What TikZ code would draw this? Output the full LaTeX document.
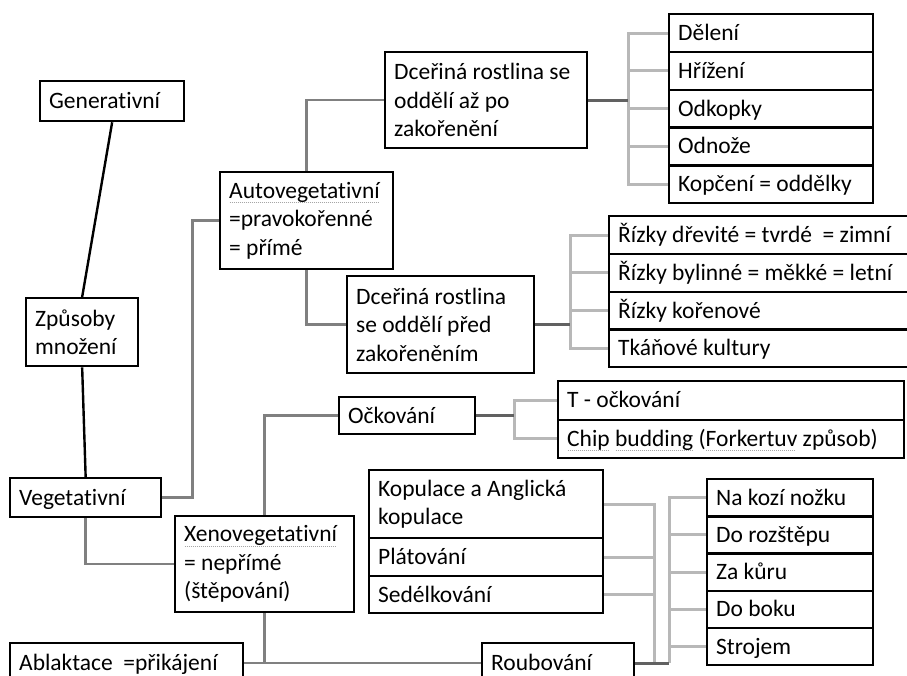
\documentclass[tikz,border=0pt]{standalone}
\usepackage{fontspec}
\setmainfont{Carlito}[Ligatures={NoCommon}]
\usetikzlibrary{backgrounds}
\newcommand\fs{\fontsize{23.5}{28.5}\selectfont}
\newsavebox\sqbox
\newcommand\sqg[1]{\sbox\sqbox{#1}\leavevmode\rlap{\color{black!35}\raisebox{-4.5pt}{\hbox to\wd\sqbox{\leaders\hbox to 2pt{\hss\rule{1.1pt}{0.7pt}\hss}\hfill}}}\usebox\sqbox}
\begin{document}
\begin{tikzpicture}[x=1pt,y=-1pt,
  bx/.style={draw=black, line width=2.3pt, fill=white, anchor=north west, align=flush left,
    inner xsep=9pt, inner ysep=0pt, font=\fs},
  one/.style={text height=19.5pt, text depth=4.5pt},
  trunk/.style={draw=black, line width=2.4pt},
  mid/.style={draw=black!50, line width=2.5pt},
  dark/.style={draw=black!62, line width=3pt},
  light/.style={draw=black!28, line width=3pt}]
\clip (0,0) rectangle (907,675);
% main boxes
\node[bx, one, text width=126pt, minimum height=40pt] (gen) at (39,80) {Generativní};
\node[bx, text width=94pt, minimum height=68pt] (zp) at (25,297) {Způsoby\\množení};
\node[bx, one, text width=133pt, minimum height=39pt] (veg) at (9,477) {Vegetativní};
\node[bx, text width=155pt, minimum height=97pt] (auto) at (219,171) {\sqg{Autovegetativní}\\=pravokořenné\\= přímé};
\node[bx, text width=184pt, minimum height=96pt] (d1) at (384,51) {Dceřiná rostlina se\\oddělí až po\\zakořenění};
\node[bx, text width=169pt, minimum height=97pt] (d2) at (346,275) {Dceřiná rostlina\\se oddělí před\\zakořeněním};
\node[bx, text width=161pt, minimum height=96pt] (xeno) at (174,515) {\sqg{Xenovegetativní}\\= nepřímé\\(štěpování)};
\node[bx, one, text width=118pt, minimum height=37pt] (ock) at (338,396) {Očkování};
\node[bx, one, text width=215pt, minimum height=40pt] (abl) at (9,642) {Ablaktace\ \ =přikájení};
\node[bx, one, text width=134pt, minimum height=40pt] (rou) at (481,642) {Roubování};
% list 1
\node[bx, one, text width=186pt, minimum height=37.8pt] (a1) at (668,13) {Dělení};
\node[bx, one, text width=186pt, minimum height=37.8pt] (a2) at (668,50.8) {Hřížení};
\node[bx, one, text width=186pt, minimum height=37.8pt] (a3) at (668,88.6) {Odkopky};
\node[bx, one, text width=186pt, minimum height=37.8pt] (a4) at (668,126.4) {Odnože};
\node[bx, one, text width=186pt, minimum height=37.8pt] (a5) at (668,164.2) {Kopčení = oddělky};
% list 2
\node[bx, one, text width=314pt, minimum height=37.75pt] (c1) at (608,215) {Řízky dřevité = tvrdé\ \ = zimní};
\node[bx, one, text width=314pt, minimum height=37.75pt] (c2) at (608,252.75) {Řízky bylinné = měkké = letní};
\node[bx, one, text width=314pt, minimum height=37.75pt] (c3) at (608,290.5) {Řízky kořenové};
\node[bx, one, text width=314pt, minimum height=37.75pt] (c4) at (608,328.25) {Tkáňové kultury};
% list T
\node[bx, one, text width=328pt, minimum height=38.5pt] (t1) at (557,380) {T - očkování};
\node[bx, one, text width=328pt, minimum height=38.5pt] (t2) at (557,418.5) {\sqg{Chip} \sqg{budding} (\sqg{Forkertuv} způsob)};
% Kopulace group
\node[bx, text width=216pt, minimum height=68pt] (k1) at (368,469) {Kopulace a Anglická\\kopulace};
\node[bx, one, text width=216pt, minimum height=38pt] (k2) at (368,537) {Plátování};
\node[bx, one, text width=216pt, minimum height=37pt] (k3) at (368,575) {Sedélkování};
% right list
\node[bx, one, text width=148pt, minimum height=37.2pt] (r1) at (706,478) {Na kozí nožku};
\node[bx, one, text width=148pt, minimum height=37.2pt] (r2) at (706,515.2) {Do rozštěpu};
\node[bx, one, text width=148pt, minimum height=37.2pt] (r3) at (706,552.4) {Za kůru};
\node[bx, one, text width=148pt, minimum height=37.2pt] (r4) at (706,589.6) {Do boku};
\node[bx, one, text width=148pt, minimum height=37.2pt] (r5) at (706,626.8) {Strojem};
% connectors
\begin{scope}[on background layer]
\fill[white] (0,0) rectangle (907,675);
\draw[trunk] (gen.south) -- (zp.north);
\draw[trunk] (zp.south) -- (veg.north);
\draw[mid] (veg.east) -- ++(30,0) |- (auto.west);
\draw[mid] (veg.south) |- (xeno.west);
\draw[mid] (auto.north) |- (d1.west);
\draw[mid] (auto.south) |- (d2.west);
\draw[mid] (xeno.north) |- (ock.west);
\draw[mid] (xeno.south) -- (xeno.south |- abl.east);
\draw[mid] (abl.east) -- (rou.west);
% list 1
\coordinate (b1) at (628,0);
\draw[light] (a1.west) -| (b1 |- a5.west) -- (a5.west);
\foreach \n in {a2,a3,a4} \draw[light] (\n.west) -- (\n.west -| b1);
\draw[dark] (d1.east) -- (d1.east -| b1);
% list 2
\coordinate (b2) at (570,0);
\draw[light] (c1.west) -| (b2 |- c4.west) -- (c4.west);
\foreach \n in {c2,c3} \draw[light] (\n.west) -- (\n.west -| b2);
\draw[dark] (d2.east) -- (d2.east -| b2);
% list T
\coordinate (b3) at (514,0);
\draw[light] (t1.west) -| (b3 |- t2.west) -- (t2.west);
\draw[dark] (ock.east) -- (ock.east -| b3);
% Kopulace
\coordinate (bk) at (654,0);
\draw[light] (k1.east) -| (bk |- rou.east);
\foreach \n in {k2,k3} \draw[light] (\n.east) -- (\n.east -| bk);
% right list
\coordinate (br) at (669,0);
\draw[light] (r1.west) -| (br |- rou.east);
\foreach \n in {r2,r3,r4,r5} \draw[light] (\n.west) -- (\n.west -| br);
\draw[dark] (rou.east) -- (rou.east -| br);
\end{scope}
\end{tikzpicture}
\end{document}
